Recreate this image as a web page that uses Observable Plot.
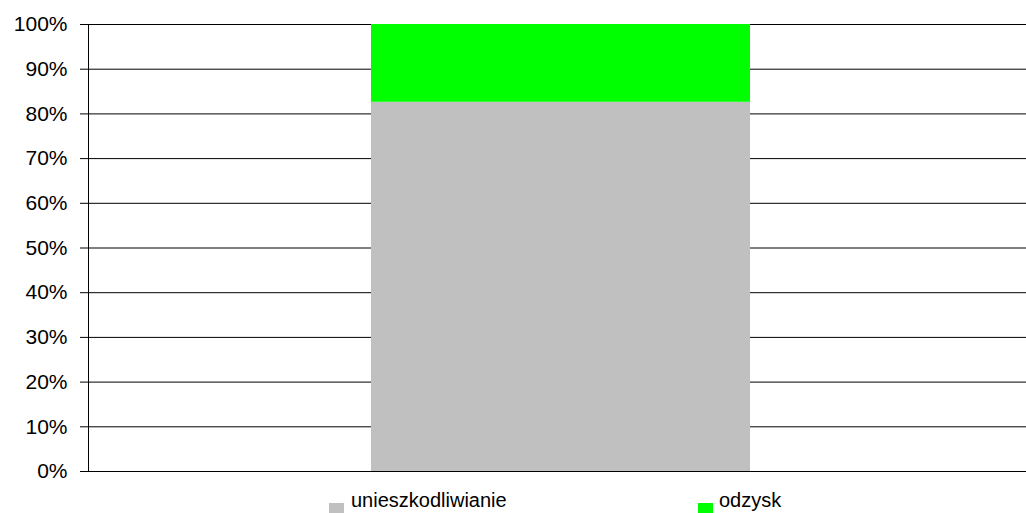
<!DOCTYPE html>
<html><head><meta charset="utf-8">
<script src="https://cdn.jsdelivr.net/npm/d3@7"></script>
<script src="https://cdn.jsdelivr.net/npm/@observablehq/plot@0.6"></script>
<style>
body{margin:0;background:#fff;font-family:"Liberation Sans",Arial,sans-serif;overflow:hidden}
#wrap{position:relative;width:1026px;height:513px;overflow:hidden}
.lg{position:absolute;font-size:20px;line-height:23px;color:#000;white-space:nowrap}
.sw{position:absolute;width:15px;height:15px}
</style>
</head><body><div id="wrap"></div>
<script>
const categories = [""];
const series = ["unieszkodliwianie", "odzysk"];
const values = [82.6, 17.4];
const colors = ["#c0c0c0", "#00ff00"];
const yTicks = [0, 10, 20, 30, 40, 50, 60, 70, 80, 90, 100];

const data = series.map((s, i) => ({cat: categories[0], series: s, value: values[i]}));

const chart = Plot.plot({
  width: 1026,
  height: 488,
  marginTop: 24,
  marginBottom: 17,
  marginLeft: 88,
  marginRight: 0,
  style: {background: "#fff", fontFamily: "Liberation Sans, Arial, sans-serif", color: "#000", overflow: "hidden"},
  x: {type: "band", domain: categories, range: [88, 1034], padding: 0.427, axis: null},
  y: {domain: [0, 100], label: null},
  color: {domain: series, range: colors},
  marks: [
    Plot.ruleY(yTicks, {stroke: "#000", strokeWidth: 1}),
    Plot.barY(data, {x: "cat", y: "value", fill: "series"}),
    Plot.axisY({ticks: yTicks, tickFormat: d => d + "%", tickSize: 8, tickPadding: 13, fontSize: 21, stroke: "#000", label: null}),
    Plot.frame({anchor: "left", stroke: "#000"})
  ]
});
const wrap = document.getElementById("wrap");
wrap.appendChild(chart);

const legendPos = [{sw: 329, tx: 351}, {sw: 698, tx: 719}];
series.forEach((s, i) => {
  const sq = document.createElement("div");
  sq.className = "sw";
  sq.style.left = legendPos[i].sw + "px";
  sq.style.top = "503px";
  sq.style.background = colors[i];
  wrap.appendChild(sq);
  const t = document.createElement("div");
  t.className = "lg";
  t.style.left = legendPos[i].tx + "px";
  t.style.top = "489px";
  t.textContent = s;
  wrap.appendChild(t);
});
</script>
</body></html>
